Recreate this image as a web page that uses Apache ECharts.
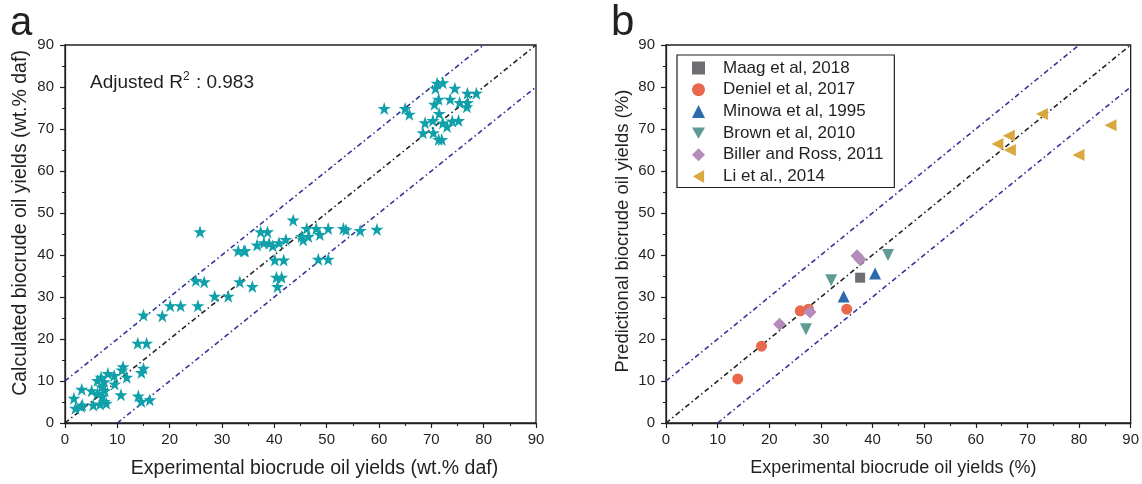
<!DOCTYPE html>
<html><head><meta charset="utf-8">
<script src="https://cdn.jsdelivr.net/npm/echarts@6/dist/echarts.min.js"></script>
<style>html,body{margin:0;padding:0;background:#fff}#c{width:1142px;height:484px}</style>
</head><body><div id="c"></div>
<script>
// ---- Data ----
const axisTicks = [0,10,20,30,40,50,60,70,80,90];
const parityX = [0, 90];          // 1:1 line
const upperX = [0, 80];           // +10 line
const lowerX = [10, 90];          // -10 line
const bandOffset = 10;

// Panel a: experimental vs calculated
const aExp = [61.0,65.0,65.8,71.1,72.2,70.8,74.5,71.4,73.6,76.9,78.6,70.6,75.4,76.8,76.9,71.5,68.8,70.3,72.2,73.0,74.0,75.2,68.4,70.4,71.4,72.0,
  43.6,37.4,38.7,46.2,48.0,50.3,53.2,53.7,56.4,59.6,45.2,46.5,48.7,45.5,36.7,38.0,39.0,39.7,40.9,42.2,34.2,40.1,41.8,48.4,50.3,40.4,41.4,35.8,40.6,
  25.8,33.1,34.4,25.0,26.6,33.4,28.6,31.2,20.1,22.1,25.4,15.0,18.6,
  13.9,15.6,11.1,10.9,15.0,14.6,11.8,9.4,6.9,6.2,7.5,9.5,3.2,5.1,7.6,6.2,7.1,10.7,14.0,1.7,7.5,7.9,5.4,6.7,16.2,14.6,3.3,2.0,3.1,8.2,7.0];
const aCalc = [74.9,74.9,73.5,80.9,81.0,79.7,79.7,77.1,77.1,78.5,78.5,75.9,76.3,75.3,76.3,73.7,71.5,72.0,71.4,70.6,71.9,72.0,69.1,69.1,67.5,67.5,
  48.3,45.5,45.5,46.3,46.3,46.3,46.3,46.0,45.8,46.1,44.4,44.4,44.9,43.6,42.4,42.9,42.8,42.2,42.9,43.7,41.0,38.8,38.8,39.0,39.0,34.7,34.7,32.5,32.5,
  45.5,41.0,41.0,33.9,33.6,33.6,30.2,30.2,27.9,27.9,27.9,25.7,25.5,
  19.0,19.0,13.4,12.6,13.0,12.0,10.9,11.3,10.9,10.1,9.8,9.3,8.0,7.7,7.7,7.1,6.3,6.7,6.4,5.9,5.1,4.7,4.3,4.5,5.5,5.1,4.3,3.5,3.9,11.8,8.6];

// Panel b: experimental vs predicted, by study
const studies = ['Maag et al, 2018','Deniel et al, 2017','Minowa et al, 1995','Brown et al, 2010','Biller and Ross, 2011','Li et al., 2014'];
const maagX = [37.6], maagY = [34.6];
const denielX = [13.9,18.5,26.0,27.6,35.0], denielY = [10.5,18.3,26.7,27.1,27.1];
const minowaX = [34.4,40.5], minowaY = [30.1,35.6];
const brownX = [27.1,32.0,43.0], brownY = [22.3,34.0,40.0];
const billerX = [22.0,27.9,37.0,37.6], billerY = [23.5,26.4,39.8,38.9];
const liX = [72.8,66.4,64.2,66.6,79.9,86.1], liY = [73.6,68.4,66.4,65.0,63.8,70.9];

// ---- Chart ----
const zip = (xs, ys) => xs.map((x, i) => [x, ys[i]]);
const lineData = (xs, off) => xs.map(x => [x, x + off]);
const starPath = 'path://M50,0 L61.8,35.1 L98.1,35.1 L68.8,56.8 L79.4,91.9 L50,70.5 L20.6,91.9 L31.2,56.8 L1.9,35.1 L38.2,35.1 Z';
const downTri = 'path://M0,0 L20,0 L10,17.3 Z';
const leftTri = 'path://M17.3,0 L17.3,20 L0,10 Z';

const FONT = 'Liberation Sans, Arial, sans-serif';
const ink = '#231f20';
function xAx(gi, name, fs, pad) {
  return {
    gridIndex: gi, type: 'value', min: 0, max: 90, interval: 10,
    name: name, nameLocation: 'middle', nameGap: 36,
    nameTextStyle: { fontFamily: FONT, fontSize: fs, color: ink, padding: pad },
    axisLine: { show: true, onZero: false, lineStyle: { color: ink, width: 1.3 } },
    axisTick: { show: true, length: 5, lineStyle: { color: ink, width: 1.2 } },
    minorTick: { show: true, splitNumber: 2, length: 3, lineStyle: { color: ink, width: 1 } },
    splitLine: { show: false },
    axisLabel: { fontFamily: FONT, fontSize: 15, color: ink, margin: 9,
      formatter: v => axisTicks.includes(v) ? String(v) : '' }
  };
}
function yAx(gi, name, fs, pad) {
  return {
    gridIndex: gi, type: 'value', min: 0, max: 90, interval: 10,
    name: name, nameLocation: 'middle', nameGap: 34,
    nameTextStyle: { fontFamily: FONT, fontSize: fs, color: ink, padding: pad },
    axisLine: { show: true, onZero: false, lineStyle: { color: ink, width: 1.3 } },
    axisTick: { show: true, length: 5, lineStyle: { color: ink, width: 1.2 } },
    minorTick: { show: true, splitNumber: 2, length: 3, lineStyle: { color: ink, width: 1 } },
    splitLine: { show: false },
    axisLabel: { fontFamily: FONT, fontSize: 15, color: ink, margin: 11,
      formatter: v => axisTicks.includes(v) ? String(v) : '' }
  };
}
const dashDot = [5, 3, 1.5, 3];
function refLines(xi, yi) {
  const mk = (data, color) => ({
    type: 'line', xAxisIndex: xi, yAxisIndex: yi, data: data, symbol: 'none',
    silent: true, z: 1, legendHoverLink: false,
    lineStyle: { color: color, width: 1.6, type: dashDot }
  });
  return [
    mk(lineData(parityX, 0), '#222222'),
    mk(lineData(upperX, bandOffset), '#34349c'),
    mk(lineData(lowerX, -bandOffset), '#34349c')
  ];
}
function sc(name, xs, ys, symbol, color, size, rot) {
  return {
    type: 'scatter', name: name, xAxisIndex: 1, yAxisIndex: 1,
    data: zip(xs, ys), symbol: symbol, symbolSize: size, symbolRotate: rot || 0,
    itemStyle: { color: color, opacity: 1 }, z: 3
  };
}

const chart = echarts.init(document.getElementById('c'), null, { renderer: 'canvas' });
chart.setOption({
  backgroundColor: '#fff',
  animation: false,
  grid: [
    { left: 65, right: 606, top: 45, bottom: 61, show: true, borderColor: ink, borderWidth: 1.3, backgroundColor: 'transparent' },
    { left: 666, right: 9, top: 45, bottom: 61, show: true, borderColor: ink, borderWidth: 1.3, backgroundColor: 'transparent' }
  ],
  xAxis: [
    xAx(0, 'Experimental biocrude oil yields (wt.% daf)', 19.5, [0, 0, 0, 28]),
    xAx(1, 'Experimental biocrude oil yields (%)', 18, [0, 10, 0, 0])
  ],
  yAxis: [
    yAx(0, 'Calculated biocrude oil yields (wt.% daf)', 19.5, [0, 0, 0, 22]),
    yAx(1, 'Predictional biocrude oil yields (%)', 18.5, [0, 0, 0, 6])
  ],
  legend: {
    data: [
      { name: studies[0] }, { name: studies[1] }, { name: studies[2] },
      { name: studies[3], icon: downTri }, { name: studies[4] }, { name: studies[5], icon: leftTri }
    ],
    orient: 'vertical', left: 677, top: 55,
    padding: [4, 11, 2, 15], itemGap: 3.7, itemWidth: 13, itemHeight: 13,
    borderColor: ink, borderWidth: 1.2, backgroundColor: '#fff',
    textStyle: { fontFamily: FONT, fontSize: 17, lineHeight: 18, color: ink, padding: [0, 0, 0, 13] }
  },
  graphic: [
    { type: 'text', left: 10, top: 4, style: { text: 'a', font: '40px ' + FONT, fill: ink } },
    { type: 'text', left: 611, top: 2, style: { text: 'b', font: '42px ' + FONT, fill: ink } },
    { type: 'text', left: 90, top: 71, style: {
        text: '{t|Adjusted R}{s|2}{t| : 0.983}',
        rich: { t: { font: '19px ' + FONT, fill: ink, verticalAlign: 'bottom' },
                s: { font: '12px ' + FONT, fill: ink, verticalAlign: 'top', padding: [0, 1, 9, 0] } } } }
  ],
  series: [
    ...refLines(0, 0),
    { type: 'scatter', xAxisIndex: 0, yAxisIndex: 0, data: zip(aExp, aCalc),
      symbol: starPath, symbolSize: 13, itemStyle: { color: '#10a0aa', opacity: 1 }, z: 3 },
    ...refLines(1, 1),
    sc(studies[0], maagX, maagY, 'rect', '#6d6e71', 10),
    sc(studies[1], denielX, denielY, 'circle', '#e9674a', 11),
    sc(studies[2], minowaX, minowaY, 'triangle', '#2b6aab', 12),
    sc(studies[3], brownX, brownY, 'triangle', '#5e9b94', 12, 180),
    sc(studies[4], billerX, billerY, 'diamond', '#b48bbb', 13),
    sc(studies[5], liX, liY, 'triangle', '#d9a83f', 12, 90)
  ]
});
</script></body></html>
